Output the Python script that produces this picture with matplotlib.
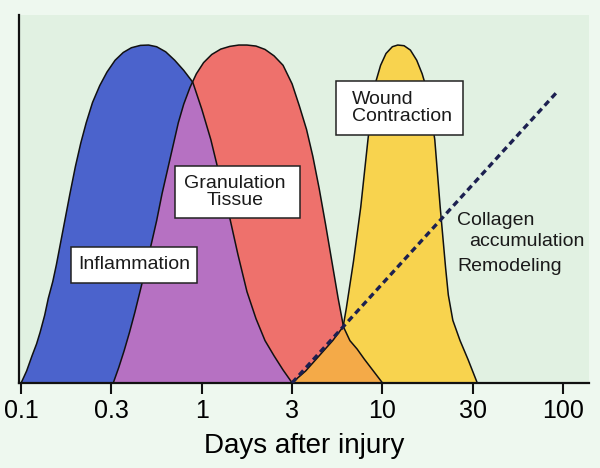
import matplotlib.pyplot as plt
from matplotlib.patches import Rectangle

plt.rcParams['font.family'] = ['Liberation Sans', 'DejaVu Sans']
plt.rcParams['lines.scale_dashes'] = False

# x axis: evenly spaced ticks (0 = 0.1 day ... 6 = 100 days)
tick_pos = [0, 1, 2, 3, 4, 5, 6]
tick_labels = ['0.1', '0.3', '1', '3', '10', '30', '100']

# phase curves (x in tick steps, y relative to peak)
infl_x = [0, 0.06, 0.12, 0.17, 0.21, 0.26, 0.30, 0.35, 0.39, 0.44, 0.49, 0.54, 0.60, 0.66,
          0.72, 0.79, 0.87, 0.95, 1.04, 1.13, 1.22, 1.32, 1.41, 1.50, 1.60, 1.70, 1.80,
          1.90, 2.00, 2.10, 2.20, 2.30, 2.40, 2.50, 2.60, 2.70, 2.80, 2.90, 3.0]
infl_y = [0, 0.035, 0.08, 0.115, 0.15, 0.20, 0.25, 0.30, 0.35, 0.42, 0.49, 0.56, 0.64, 0.71,
          0.77, 0.83, 0.88, 0.92, 0.955, 0.978, 0.992, 0.999, 1.0, 0.995, 0.98, 0.955, 0.925,
          0.89, 0.81, 0.72, 0.61, 0.50, 0.38, 0.27, 0.19, 0.125, 0.08, 0.038, 0]

gran_x = [1.02, 1.08, 1.14, 1.20, 1.26, 1.32, 1.38, 1.44, 1.50, 1.56, 1.62, 1.68, 1.74, 1.80,
          1.87, 1.94, 2.02, 2.11, 2.21, 2.31, 2.41, 2.50, 2.60, 2.70, 2.80, 2.90, 3.00, 3.08,
          3.16, 3.23, 3.30, 3.37, 3.44, 3.51, 3.57, 3.64, 3.72, 3.80, 3.90, 4.0]
gran_y = [0, 0.045, 0.095, 0.15, 0.21, 0.275, 0.34, 0.41, 0.48, 0.56, 0.63, 0.70, 0.77, 0.825,
          0.875, 0.915, 0.948, 0.972, 0.988, 0.996, 1.0, 1.0, 0.997, 0.987, 0.968, 0.94, 0.885, 0.82,
          0.75, 0.67, 0.575, 0.47, 0.36, 0.25, 0.165, 0.125, 0.10, 0.07, 0.035, 0]

wound_x = [3.0, 3.15, 3.30, 3.45, 3.565, 3.60, 3.64, 3.68, 3.72, 3.76, 3.80, 3.84, 3.88, 3.92,
           3.98, 4.04, 4.11, 4.17, 4.24, 4.31, 4.38, 4.44, 4.49, 4.53, 4.58, 4.61, 4.64, 4.67,
           4.70, 4.73, 4.78, 4.86, 4.95, 5.05]
wound_y = [0, 0.035, 0.08, 0.125, 0.166, 0.22, 0.29, 0.36, 0.44, 0.52, 0.62, 0.72, 0.81, 0.885,
           0.94, 0.975, 0.995, 1.0, 0.998, 0.985, 0.955, 0.915, 0.87, 0.81, 0.72, 0.62, 0.52, 0.43,
           0.34, 0.26, 0.185, 0.125, 0.068, 0]

collagen_x = [3.0, 5.93]
collagen_y = [0, 0.86]

BLUE = '#4b63cc'
RED = '#ee716c'
PURPLE = '#b671c2'
YELLOW = '#f8d34e'
ORANGE = '#f4aa48'

fig = plt.figure(figsize=(6, 4.68), dpi=100, facecolor='#eef8ef')
ax = fig.add_axes([0.032, 0.182, 0.95, 0.786])
ax.set_facecolor('#e1f1e2')
ax.set_xlim(-0.022, 6.29)
ax.set_ylim(0, 1.089)

# fills, overlaps done by clipping one shape with another
ax.fill(infl_x, infl_y, color=BLUE, lw=0)
red = ax.fill(gran_x, gran_y, color=RED, lw=0)[0]
purple = ax.fill(infl_x, infl_y, color=PURPLE, lw=0)[0]
purple.set_clip_path(red)
ax.fill(wound_x, wound_y, color=YELLOW, lw=0)
orange = ax.fill(wound_x, wound_y, color=ORANGE, lw=0)[0]
orange.set_clip_path(red)

for xs, ys in [(infl_x, infl_y), (gran_x, gran_y), (wound_x, wound_y)]:
    ax.plot(xs, ys, color='#111111', lw=1.1, solid_joinstyle='round')

ax.plot(collagen_x, collagen_y, color='#1c2050', lw=2.4, dashes=(4.5, 3), zorder=5)

# label boxes
boxes = [(0.554, 0.296, 1.394, 0.106), (1.705, 0.488, 1.384, 0.154), (3.487, 0.734, 1.406, 0.159)]
for x0, y0, w, h in boxes:
    ax.add_patch(Rectangle((x0, y0), w, h, facecolor='white', edgecolor='#222222', lw=1.1, zorder=6))

txt = dict(fontsize=14, color='#1a1a1a', zorder=7)
ax.text(1.25, 0.349, 'Inflammation', ha='center', va='center', **txt)
ax.text(2.37, 0.565, 'Granulation\nTissue', ha='center', va='center', linespacing=1.0, **txt)
ax.text(3.66, 0.814, 'Wound\nContraction', ha='left', va='center', linespacing=1.0, **txt)
ax.text(4.83, 0.482, 'Collagen', ha='left', va='center', **txt)
ax.text(4.96, 0.417, 'accumulation', ha='left', va='center', **txt)
ax.text(4.83, 0.343, 'Remodeling', ha='left', va='center', **txt)

ax.set_xticks(tick_pos, tick_labels)
ax.set_yticks([])
ax.tick_params(axis='x', length=8, width=1.5, labelsize=18, pad=4, color='#111111')
for s in ['top', 'right']:
    ax.spines[s].set_visible(False)
for s in ['left', 'bottom']:
    ax.spines[s].set_linewidth(1.6)
    ax.spines[s].set_color('#111111')
ax.set_xlabel('Days after injury', fontsize=20, labelpad=7)

fig.savefig('out.png', dpi=100, facecolor=fig.get_facecolor())
